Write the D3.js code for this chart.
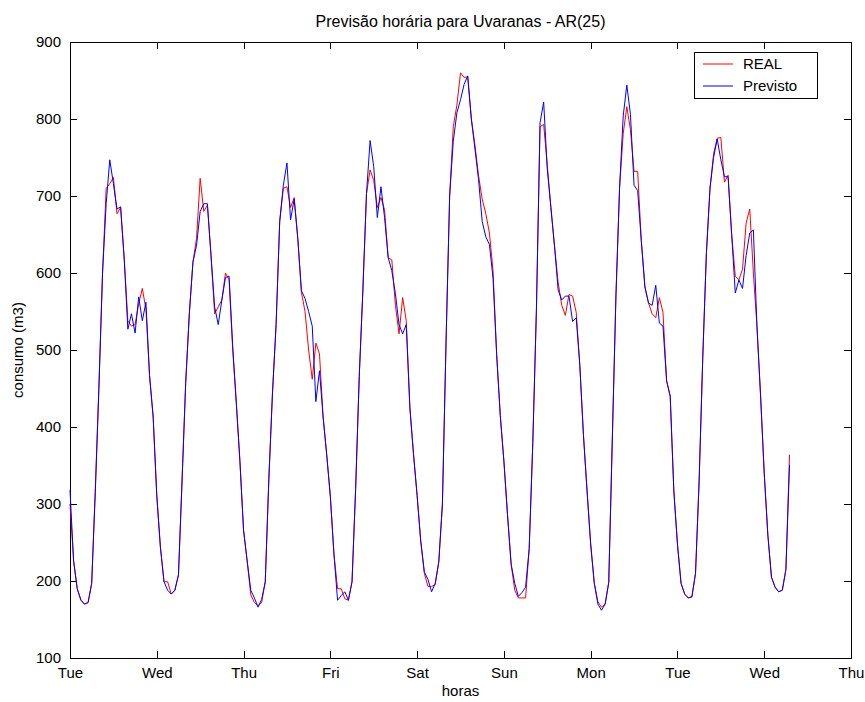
<!DOCTYPE html>
<html>
<head>
<meta charset="utf-8">
<script src="https://cdn.jsdelivr.net/npm/d3@7"></script>
<style>
body{margin:0;background:#fff;}
svg text{font-family:"Liberation Sans",Arial,Helvetica,sans-serif;fill:#000;}
</style>
</head>
<body>
<svg id="chart" width="865" height="702"></svg>
<script>
// hourly values, starting Tue 00:00
var real=[
300,226,190,176,170,172,197,320,455,600,710,716,724,677,685,618,538,531,533,560,580,553,467,413,
310,244,199,199,183,188,208,333,458,547,614,645,723,680,688,623,547,556,565,600,591,500,431,355,
266,226,182,172,168,172,199,333,444,533,667,710,712,685,698,645,575,550,500,462,509,495,413,364,
310,235,190,190,177,175,199,320,466,578,703,734,720,685,698,682,620,617,558,521,568,538,425,365,
311,252,210,193,193,195,225,300,510,700,790,818,860,854,855,800,766,726,696,677,652,603,494,415,
356,286,222,188,178,178,178,242,380,553,790,793,740,685,635,588,558,545,572,570,549,480,390,317,
248,197,173,166,170,198,387,572,711,781,816,786,732,732,642,582,561,547,542,568,549,460,440,317,
248,197,183,178,179,210,330,490,625,710,755,775,776,718,727,650,596,591,605,665,683,600,530,440,
340,260,205,192,186,188,215,364
];
var previsto=[
318,226,190,175,170,172,197,315,450,600,690,747,716,683,686,618,527,547,522,569,538,562,467,413,
312,244,199,188,183,188,208,330,458,547,614,636,680,690,690,623,556,533,565,594,596,505,431,355,
266,226,188,178,166,176,199,333,444,533,667,714,743,669,696,645,577,567,550,531,433,473,413,364,
310,235,175,181,186,175,199,320,466,578,703,772,738,672,712,672,620,603,573,533,521,533,425,365,
311,252,212,202,186,197,225,300,510,700,771,808,825,845,856,800,761,721,667,647,637,593,494,415,
356,286,222,197,180,185,192,242,380,553,795,822,735,685,635,578,565,570,570,537,542,480,390,317,
248,197,170,162,170,198,387,572,711,804,844,806,714,707,642,582,561,558,584,535,531,460,440,317,
248,197,183,178,180,210,330,490,625,710,750,774,747,725,725,650,574,591,580,623,652,656,530,440,
340,260,205,192,186,188,215,351
];
var dayLabels=["Tue","Wed","Thu","Fri","Sat","Sun","Mon","Tue","Wed","Thu"];
var yTicks=[100,200,300,400,500,600,700,800,900];
var seriesNames=["REAL","Previsto"];

var plotLeft=70,plotRight=851,plotTop=42,plotBottom=658;
var svg=d3.select("#chart");

var x=d3.scaleLinear().domain([0,24*(dayLabels.length-1)]).range([plotLeft,plotRight]);
var y=d3.scaleLinear().domain([100,900]).range([plotBottom,plotTop]);
var dayTicks=dayLabels.map(function(d,i){return i*24;});

// axes (matlab style: ticks pointing inward, on all four sides)
var xAxis=d3.axisBottom(x).tickValues(dayTicks).tickSizeInner(-7).tickSizeOuter(0).tickPadding(9)
	.tickFormat(function(d,i){return dayLabels[i];});
svg.append("g").attr("transform","translate(0,"+plotBottom+")").call(xAxis);
svg.append("g").attr("transform","translate(0,"+plotTop+")")
	.call(d3.axisTop(x).tickValues(dayTicks).tickSizeInner(-7).tickSizeOuter(0).tickFormat(""));
svg.append("g").attr("transform","translate("+plotLeft+",0)")
	.call(d3.axisLeft(y).tickValues(yTicks).tickSizeInner(-7).tickSizeOuter(0).tickPadding(9));
svg.append("g").attr("transform","translate("+plotRight+",0)")
	.call(d3.axisRight(y).tickValues(yTicks).tickSizeInner(-7).tickSizeOuter(0).tickFormat(""));
svg.selectAll(".domain").remove();
svg.selectAll(".tick line").attr("stroke","#000").attr("shape-rendering","crispEdges");
svg.selectAll(".tick text").style("font-size","15px").attr("font-family",null);

svg.append("rect").attr("x",plotLeft).attr("y",plotTop).attr("width",plotRight-plotLeft).attr("height",plotBottom-plotTop)
	.attr("fill","none").attr("stroke","#000").attr("shape-rendering","crispEdges");

// lines
var line=d3.line().x(function(d,i){return x(i);}).y(function(d){return y(d);});
svg.append("path").datum(real).attr("d",line).attr("fill","none").attr("stroke","#ff0000").attr("stroke-width",1);
svg.append("path").datum(previsto).attr("d",line).attr("fill","none").attr("stroke","#0000ff").attr("stroke-width",1);

// labels
svg.append("text").attr("x",(plotLeft+plotRight)/2).attr("y",27).attr("text-anchor","middle")
	.style("font-size","16px").text("Previsão horária para Uvaranas - AR(25)");
svg.append("text").attr("x",(plotLeft+plotRight)/2).attr("y",696).attr("text-anchor","middle")
	.style("font-size","15px").text("horas");
svg.append("text").attr("transform","translate(23,"+((plotTop+plotBottom)/2)+") rotate(-90)").attr("text-anchor","middle")
	.style("font-size","15px").text("consumo (m3)");

// legend
var lg=svg.append("g").attr("transform","translate(694,52)");
lg.append("rect").attr("width",123).attr("height",46).attr("fill","#fff").attr("stroke","#000").attr("shape-rendering","crispEdges");
var colors=["#ff0000","#0000ff"];
seriesNames.forEach(function(name,i){
	var yy=12+i*22;
	lg.append("line").attr("x1",9).attr("x2",39).attr("y1",yy).attr("y2",yy).attr("stroke",colors[i]);
	lg.append("text").attr("x",49).attr("y",yy+5).style("font-size","15px").text(name);
});
</script>
</body>
</html>
